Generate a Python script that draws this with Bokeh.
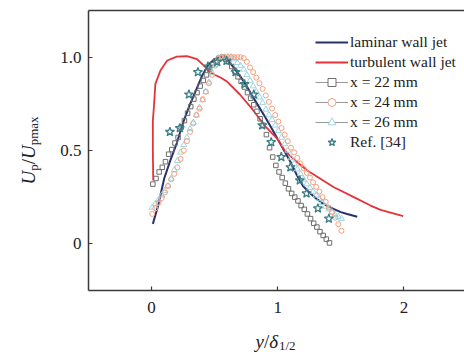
import numpy as np
from bokeh.plotting import figure
from bokeh.models import (Range1d, FixedTicker, Label, Legend, LegendItem, LinearAxis)
from bokeh.embed import file_html
from bokeh.resources import INLINE

# ---------------- data ----------------
lam_x = [0.01, 0.05, 0.1, 0.15, 0.2, 0.25, 0.3, 0.35, 0.4, 0.45, 0.5, 0.55, 0.6, 0.65,
         0.7, 0.75, 0.8, 0.85, 0.9, 0.95, 1.0, 1.05, 1.1, 1.15, 1.2, 1.25, 1.3, 1.35,
         1.4, 1.45, 1.5, 1.55, 1.63]
lam_y = [0.107, 0.2, 0.35, 0.45, 0.54, 0.65, 0.74, 0.82, 0.9, 0.96, 0.99, 1.0, 0.985, 0.945,
         0.9, 0.85, 0.79, 0.735, 0.68, 0.62, 0.56, 0.5, 0.44, 0.37, 0.31, 0.275, 0.245, 0.22,
         0.2, 0.185, 0.17, 0.16, 0.145]

turb_x = [0.013, 0.01, 0.01, 0.018, 0.03, 0.07, 0.124, 0.2, 0.28, 0.36, 0.414, 0.47, 0.55,
          0.6, 0.7, 0.8, 0.9, 1.0, 1.05, 1.1, 1.15, 1.234, 1.445, 1.603, 1.735, 1.815, 1.994]
turb_y = [0.34, 0.5, 0.66, 0.73, 0.857, 0.928, 0.982, 1.003, 1.005, 0.99, 0.955, 0.915, 0.89,
          0.868, 0.8, 0.72, 0.63, 0.56, 0.505, 0.47, 0.44, 0.393, 0.303, 0.25, 0.205, 0.182, 0.148]

x22_x = [0.01, 0.035, 0.06, 0.085, 0.11, 0.135, 0.16, 0.185, 0.21, 0.235, 0.26, 0.285, 0.31,
         0.335, 0.36, 0.385, 0.41, 0.435, 0.46, 0.485, 0.51, 0.535, 0.56, 0.585, 0.61, 0.635,
         0.66, 0.685, 0.71, 0.735, 0.76, 0.785, 0.81, 0.835, 0.86, 0.885, 0.91, 0.935, 0.96,
         0.985, 1.01, 1.035, 1.06, 1.085, 1.11, 1.135, 1.16, 1.185, 1.21, 1.235, 1.26, 1.285,
         1.31, 1.335, 1.36, 1.385, 1.41]
x22_y = [0.32, 0.35, 0.385, 0.41, 0.44, 0.48, 0.505, 0.54, 0.57, 0.625, 0.66, 0.7, 0.735,
         0.775, 0.81, 0.845, 0.875, 0.905, 0.935, 0.96, 0.98, 0.995, 1.0, 0.99, 0.975, 0.95,
         0.925, 0.895, 0.87, 0.84, 0.81, 0.78, 0.745, 0.71, 0.67, 0.635, 0.585, 0.515, 0.465,
         0.42, 0.385, 0.355, 0.325, 0.295, 0.27, 0.25, 0.23, 0.205, 0.185, 0.16, 0.135, 0.11,
         0.09, 0.065, 0.045, 0.025, 0.005]

x24_x = [0.005, 0.03, 0.055, 0.08, 0.105, 0.13, 0.155, 0.18, 0.205, 0.23, 0.255, 0.28, 0.305,
         0.33, 0.355, 0.38, 0.405, 0.43, 0.455, 0.48, 0.505, 0.53, 0.555, 0.58, 0.605, 0.63,
         0.655, 0.68, 0.705, 0.73, 0.755, 0.78, 0.805, 0.83, 0.855, 0.88, 0.905, 0.93, 0.955,
         0.98, 1.005, 1.03, 1.055, 1.08, 1.105, 1.13, 1.155, 1.18, 1.205, 1.23, 1.255, 1.28,
         1.305, 1.33, 1.355, 1.38, 1.405, 1.43, 1.455, 1.48, 1.505]
x24_y = [0.16, 0.19, 0.22, 0.245, 0.275, 0.31, 0.345, 0.375, 0.41, 0.455, 0.5, 0.55, 0.6,
         0.645, 0.69, 0.725, 0.775, 0.815, 0.86, 0.905, 0.955, 0.99, 1.0, 1.0, 1.0, 1.0,
         1.0, 1.0, 1.0, 0.995, 0.975, 0.945, 0.92, 0.89, 0.86, 0.83, 0.795, 0.76, 0.725,
         0.69, 0.655, 0.62, 0.585, 0.55, 0.515, 0.49, 0.46, 0.43, 0.405, 0.38, 0.355, 0.33,
         0.305, 0.28, 0.25, 0.225, 0.195, 0.17, 0.14, 0.105, 0.07]

x26_x = list(x24_x)
x26_y = [0.195, 0.215, 0.235, 0.26, 0.285, 0.31, 0.35, 0.395, 0.445, 0.49, 0.53, 0.57, 0.615,
         0.65, 0.69, 0.73, 0.77, 0.815, 0.865, 0.915, 0.96, 0.995, 1.0, 1.0, 1.0, 1.0,
         0.99, 0.97, 0.955, 0.935, 0.905, 0.875, 0.845, 0.815, 0.785, 0.755, 0.72, 0.69, 0.665,
         0.635, 0.605, 0.57, 0.535, 0.5, 0.46, 0.43, 0.4, 0.375, 0.345, 0.32, 0.3, 0.28,
         0.26, 0.24, 0.22, 0.2, 0.185, 0.17, 0.155, 0.145, 0.135]

ref_x = [0.145, 0.224, 0.296, 0.367, 0.446, 0.52, 0.594, 0.666, 0.737, 0.81, 0.877, 0.948,
         1.028, 1.1, 1.175, 1.228, 1.318, 1.405]
ref_y = [0.6, 0.62, 0.8, 0.92, 0.95, 0.975, 0.98, 0.92, 0.855, 0.8, 0.635, 0.545,
         0.465, 0.41, 0.34, 0.27, 0.19, 0.135]

x_ticks = [0, 1, 2]
y_ticks = [0, 0.5, 1.0]
y_tick_labels = {0: "0", 0.5: "0.5", 1: "1.0"}
legend_labels = ["laminar wall jet", "turbulent wall jet", "x = 22 mm", "x = 24 mm",
                 "x = 26 mm", "Ref. [34]"]

# ---------------- styling / layout ----------------
NAVY = "#27306b"
RED = "#e5333a"
GREY = "#6e6e6e"
ORANGE = "#f5a07f"
CYAN = "#9fd4e3"
TEAL = "#3d7f86"
AXC = "#3a3a3a"
FONT = "Liberation Serif"

W, H = 464, 356
FL, FT, FR, FB = 88, 10, 464, 290      # visible axes box, in canvas pixels
XB = (-0.5, 2.48)                      # data limits of the axes box
YB = (-0.25, 1.25)
SX = (FR - FL) / (XB[1] - XB[0])
SY = (FB - FT) / (YB[1] - YB[0])
XR = (XB[0] - FL / SX, XB[0] + (W - FL) / SX)
YR = (YB[0] - (H - FB) / SY, YB[1] + FT / SY)

p = figure(width=W, height=H, output_backend="svg", toolbar_location=None,
           x_range=Range1d(*XR), y_range=Range1d(*YR),
           min_border_left=0, min_border_right=0, min_border_top=0, min_border_bottom=0,
           x_axis_location=None, y_axis_location=None)
p.outline_line_color = None
p.xgrid.visible = False
p.ygrid.visible = False
p.background_fill_color = "white"
p.border_fill_color = "white"

def style_axis(ax, ticks, labels=True):
    ax.axis_line_color = AXC
    ax.axis_line_width = 1.5
    ax.major_tick_line_color = AXC
    ax.major_tick_line_width = 1.2
    ax.major_tick_in = 4
    ax.major_tick_out = 0
    ax.minor_tick_line_color = None
    ax.major_label_text_font = FONT
    ax.major_label_text_font_size = "17px"
    ax.major_label_text_color = "#222222"
    ax.ticker = FixedTicker(ticks=ticks)
    if not labels:
        ax.major_tick_line_color = None
        ax.major_label_text_font_size = "0px"

xax = LinearAxis(fixed_location=YB[0], bounds=XB)
style_axis(xax, x_ticks)
xax.major_label_standoff = 11
p.add_layout(xax, "below")

yax = LinearAxis(fixed_location=XB[0], bounds=YB)
style_axis(yax, y_ticks)
yax.major_label_overrides = y_tick_labels
yax.major_label_standoff = 7
p.add_layout(yax, "left")

tax = LinearAxis(fixed_location=YB[1], bounds=XB)
style_axis(tax, [], labels=False)
p.add_layout(tax, "above")

# ---------------- data glyphs ----------------
r_lam = p.line(lam_x, lam_y, line_color=NAVY, line_width=2)
r_turb = p.line(turb_x, turb_y, line_color=RED, line_width=1.8)
r22 = p.scatter(x22_x, x22_y, marker="square", size=4.5, line_color=GREY, fill_color=None, line_width=1)
r26 = p.scatter(x26_x, x26_y, marker="triangle", size=6, line_color=CYAN, fill_color=None, line_width=1)
r24 = p.scatter(x24_x, x24_y, marker="circle", size=5, line_color=ORANGE, fill_color=None, line_width=1)
rref = p.scatter(ref_x, ref_y, marker="star", size=9.5, line_color=TEAL, fill_color=None, line_width=1.3)

# legend sample glyphs (nothing drawn in the plot: NaN data)
NAN = [float("nan")]
def sample(marker, color, size):
    ln = p.line(NAN, NAN, line_color="#999999", line_width=1)
    sc = p.scatter(NAN, NAN, marker=marker, size=size, line_color=color,
                   fill_color="white", line_width=1)
    return [ln, sc]

items = [
    LegendItem(label=legend_labels[0], renderers=[r_lam]),
    LegendItem(label=legend_labels[1], renderers=[r_turb]),
    LegendItem(label=legend_labels[2], renderers=sample("square", GREY, 5)),
    LegendItem(label=legend_labels[3], renderers=sample("circle", ORANGE, 5)),
    LegendItem(label=legend_labels[4], renderers=sample("triangle", CYAN, 6)),
    LegendItem(label=legend_labels[5], renderers=[rref]),
]
leg = Legend(items=items, location=(315, H - 152), padding=0, margin=0, spacing=0,
             label_height=20, glyph_height=20, glyph_width=33, label_standoff=2,
             label_text_font=FONT, label_text_font_size="15.5px", label_text_color="#222222",
             background_fill_alpha=0, border_line_color=None)
p.add_layout(leg)

# ---------------- axis titles (pieces, with sub-scripts) ----------------
def dx(px):
    return XR[0] + px / SX
def dy(py):
    return YR[1] - py / SY

def lab(text, px, py, size, style, angle):
    p.add_layout(Label(x=dx(px), y=dy(py), text=text, text_font=FONT,
                       text_font_size=size, text_font_style=style, angle=angle,
                       text_align="left", text_baseline="alphabetic",
                       text_color="#222222"))

A = np.pi / 2
lab("U", 28, 184, "19px", "italic", A)
lab("p", 32.5, 170.3, "13px", "normal", A)
lab("/", 28, 163.8, "19px", "normal", A)
lab("U", 28, 158.5, "19px", "italic", A)
lab("pmax", 32.5, 144.8, "13px", "normal", A)

lab("y", 255, 340.5, "19px", "italic", 0.0)
lab("/", 263.4, 340.5, "19px", "normal", 0.0)
lab("δ", 268.7, 340.5, "19px", "italic", 0.0)
lab("1/2", 278.5, 344.5, "13px", "normal", 0.0)

open("out.html", "w").write(file_html(p, INLINE))
